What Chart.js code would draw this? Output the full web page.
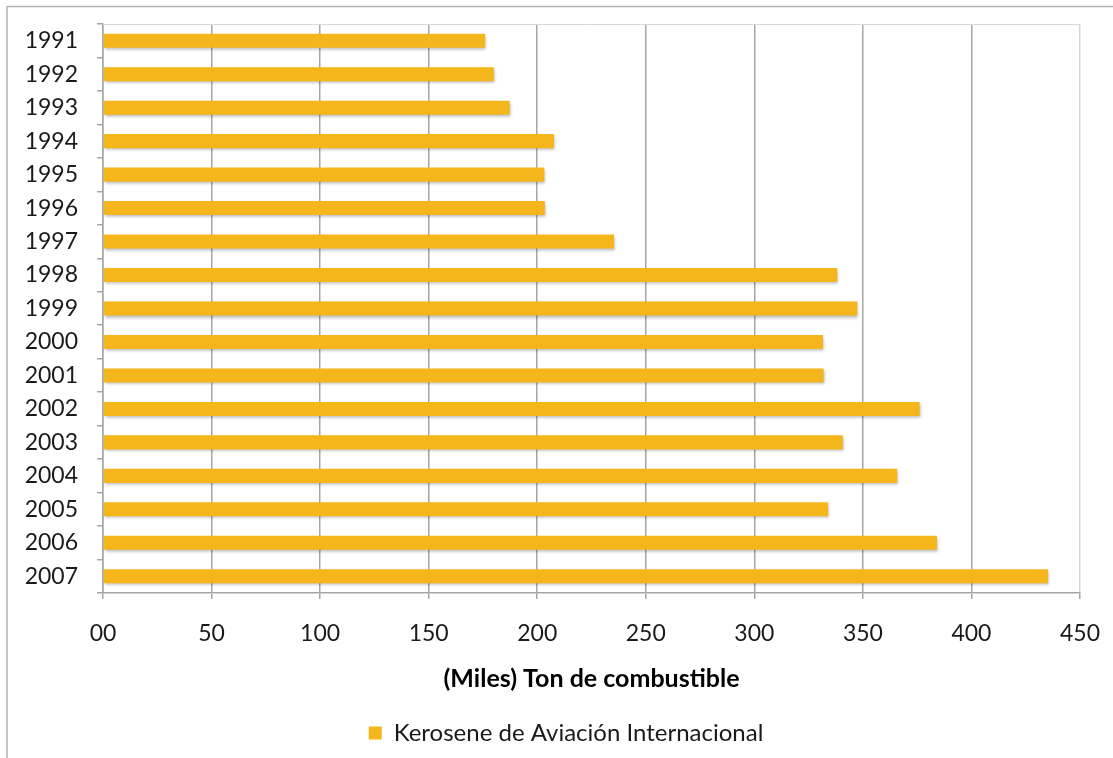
<!DOCTYPE html>
<html>
<head>
<meta charset="utf-8">
<script src="https://cdn.jsdelivr.net/npm/chart.js@4/dist/chart.umd.min.js"></script>
<style>
  html, body { margin: 0; padding: 0; background: #ffffff; }
  #wrap { width: 1113px; height: 758px; position: relative; }
</style>
</head>
<body>
<div id="wrap"><canvas id="c" width="1113" height="758"></canvas></div>
<script>
// Consumo de kerosene de aviación internacional, miles de toneladas
const years = ['1991', '1992', '1993', '1994', '1995', '1996', '1997', '1998', '1999',
               '2000', '2001', '2002', '2003', '2004', '2005', '2006', '2007'];
const kerosene = [176, 180, 187.3, 207.7, 203.3, 203.5, 235.4, 338.2, 347.4,
                  331.6, 331.9, 376.1, 340.8, 365.8, 334, 384.1, 435.3];
const xTicks = [0, 50, 100, 150, 200, 250, 300, 350, 400, 450];
const seriesName = 'Kerosene de Aviación Internacional';
const axisTitle = '(Miles) Ton de combustible';

const FONT = 'Lato, "Open Sans", sans-serif';
const BAR = '#F4B61A';

// Outer frame and the light top edge of the plot area
const framePlugin = {
  id: 'frame',
  beforeDraw(chart) {
    const ctx = chart.ctx;
    ctx.save();
    ctx.fillStyle = '#ffffff';
    ctx.fillRect(0, 0, chart.width, chart.height);
    ctx.strokeStyle = '#b3b3b3';
    ctx.lineWidth = 1.5;
    ctx.beginPath();
    ctx.moveTo(7, chart.height);
    ctx.lineTo(7, 6.5);
    ctx.lineTo(chart.width, 6.5);
    ctx.stroke();
    ctx.restore();
  },
  afterDraw(chart) {
    const a = chart.chartArea;
    const ctx = chart.ctx;
    ctx.save();
    ctx.strokeStyle = '#d9d9d9';
    ctx.lineWidth = 1;
    ctx.beginPath();
    ctx.moveTo(a.left, Math.round(a.top) + 0.5);
    ctx.lineTo(a.right, Math.round(a.top) + 0.5);
    ctx.stroke();
    ctx.restore();
  }
};

// Legend sits a little right of the canvas centre
const legendShift = {
  id: 'legendShift',
  afterLayout(chart) {
    const l = chart.legend;
    if (l) { l.left += 26; l.right += 26; }
  }
};

// Soft drop shadow under the bars
const shadowPlugin = {
  id: 'barShadow',
  beforeDatasetDraw(chart) {
    const ctx = chart.ctx;
    ctx.save();
    ctx.shadowColor = 'rgba(0,0,0,0.28)';
    ctx.shadowBlur = 3;
    ctx.shadowOffsetX = 1;
    ctx.shadowOffsetY = 2;
  },
  afterDatasetDraw(chart) {
    chart.ctx.restore();
  }
};

new Chart(document.getElementById('c'), {
  type: 'bar',
  data: {
    labels: years,
    datasets: [{
      label: seriesName,
      data: kerosene,
      backgroundColor: BAR,
      borderWidth: 0,
      categoryPercentage: 1.0,
      barPercentage: 0.42
    }]
  },
  options: {
    indexAxis: 'y',
    responsive: false,
    animation: false,
    layout: { padding: { left: 0, right: 33, top: 24, bottom: 3 } },
    plugins: {
      tooltip: { enabled: false },
      legend: {
        position: 'bottom',
        labels: {
          boxWidth: 13,
          boxHeight: 13,
          padding: 10,
          color: '#1a1a1a',
          font: { family: FONT, size: 24 }
        }
      }
    },
    scales: {
      x: {
        min: 0,
        max: 450,
        afterBuildTicks(scale) {
          scale.ticks = xTicks.map(v => ({ value: v }));
        },
        afterFit(scale) {
          scale.height = 118;
          scale.paddingLeft = 0;
          scale.paddingRight = 0;
        },
        ticks: {
          padding: 21,
          color: '#1a1a1a',
          font: { family: FONT, size: 23 },
          maxRotation: 0,
          callback: v => (v === 0 ? '00' : String(v))
        },
        grid: {
          color: ctx => (ctx.tick && ctx.tick.value === 450 ? '#d6d6d6' : '#a6a6a6'),
          lineWidth: 1.5,
          tickLength: 6,
          tickColor: '#a6a6a6'
        },
        border: { color: '#a6a6a6', width: 1.5 },
        title: {
          display: true,
          text: axisTitle,
          color: '#000000',
          font: { family: FONT, size: 25, weight: 'bold' },
          padding: { top: 0, bottom: 17 }
        }
      },
      y: {
        afterFit(scale) {
          scale.width = 103;
          scale.paddingTop = 0;
          scale.paddingBottom = 0;
        },
        ticks: {
          padding: 19,
          color: '#1a1a1a',
          font: { family: FONT, size: 23 }
        },
        grid: {
          offset: true,
          drawOnChartArea: false,
          drawTicks: true,
          tickLength: 6,
          color: '#a6a6a6',
          lineWidth: 1.5
        },
        border: { color: '#a6a6a6', width: 1.5 }
      }
    }
  },
  plugins: [framePlugin, legendShift, shadowPlugin]
});
</script>
</body>
</html>
